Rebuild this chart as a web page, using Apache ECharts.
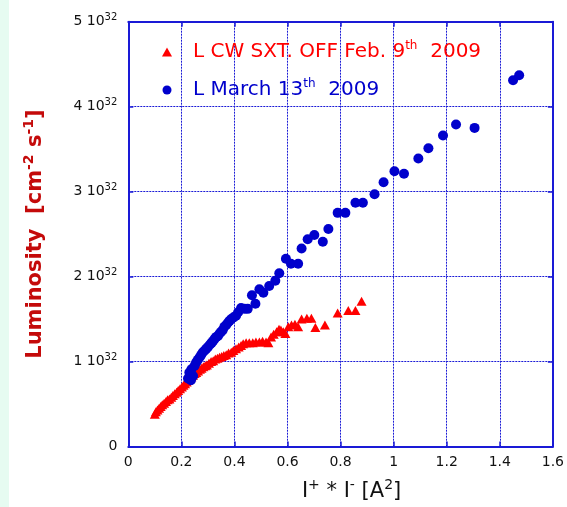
<!DOCTYPE html>
<html>
<head>
<meta charset="utf-8">
<script src="https://cdn.jsdelivr.net/npm/echarts@6/dist/echarts.min.js"></script>
<style>html,body{margin:0;padding:0;background:#fff}#c{width:567px;height:507px}</style>
</head>
<body>
<div id="c"></div>
<script>
// Luminosity in units of 1e32 cm^-2 s^-1 vs I+ * I- [A^2]
var redName = 'L CW SXT. OFF Feb. 9th 2009';
var blueName = 'L March 13th 2009';
var yTicks = [0, 1, 2, 3, 4, 5];
var xTicks = [0, 0.2, 0.4, 0.6, 0.8, 1, 1.2, 1.4, 1.6];

var redData = [
[0.100,0.38],[0.104,0.41],[0.110,0.43],[0.116,0.45],[0.122,0.47],[0.128,0.49],[0.135,0.51],[0.142,0.53],
[0.148,0.55],[0.155,0.56],[0.162,0.58],[0.168,0.60],[0.175,0.62],[0.182,0.64],[0.188,0.66],[0.195,0.68],
[0.202,0.70],[0.208,0.72],[0.214,0.74],[0.220,0.76],[0.226,0.78],[0.232,0.80],[0.238,0.82],[0.244,0.84],
[0.250,0.86],[0.256,0.87],[0.263,0.89],[0.270,0.91],[0.276,0.92],[0.283,0.94],[0.290,0.95],[0.296,0.96],
[0.304,0.98],[0.312,1.00],[0.320,1.01],[0.328,1.03],[0.336,1.04],[0.344,1.05],[0.352,1.06],[0.360,1.07],
[0.369,1.08],[0.378,1.10],[0.388,1.11],[0.396,1.13],[0.406,1.15],[0.416,1.17],[0.425,1.19],[0.433,1.21],
[0.444,1.22],[0.456,1.22],[0.469,1.22],[0.481,1.23],[0.494,1.23],[0.506,1.24],[0.519,1.23],[0.528,1.22],
[0.538,1.29],[0.548,1.32],[0.559,1.35],[0.568,1.38],[0.575,1.37],[0.584,1.35],[0.592,1.33],[0.603,1.41],
[0.615,1.43],[0.628,1.44],[0.640,1.41],[0.653,1.50],[0.673,1.51],[0.690,1.51],[0.705,1.40],[0.741,1.43],
[0.789,1.57],[0.829,1.60],[0.856,1.60],[0.879,1.71]
];
var blueData = [
[0.225,0.80],[0.230,0.87],[0.236,0.78],[0.238,0.91],[0.244,0.83],[0.250,0.95],[0.256,0.99],[0.262,1.02],
[0.269,1.05],[0.275,1.08],[0.281,1.11],[0.288,1.13],[0.294,1.15],[0.300,1.17],[0.308,1.20],[0.314,1.22],
[0.319,1.24],[0.326,1.27],[0.332,1.29],[0.338,1.30],[0.344,1.33],[0.350,1.35],[0.356,1.37],[0.362,1.41],
[0.369,1.43],[0.376,1.46],[0.382,1.48],[0.388,1.50],[0.397,1.52],[0.406,1.54],[0.414,1.58],[0.425,1.63],
[0.438,1.62],[0.450,1.62],[0.466,1.78],[0.479,1.68],[0.494,1.85],[0.509,1.81],[0.531,1.89],[0.554,1.95],
[0.569,2.04],[0.594,2.21],[0.613,2.15],[0.640,2.15],[0.653,2.33],[0.676,2.44],[0.701,2.49],[0.733,2.41],
[0.754,2.56],[0.789,2.75],[0.818,2.75],[0.856,2.87],[0.884,2.87],[0.928,2.97],[0.962,3.11],[1.003,3.24],
[1.039,3.21],[1.093,3.39],[1.131,3.51],[1.186,3.66],[1.235,3.79],[1.305,3.75],[1.450,4.31],[1.473,4.37]
];

var BLUE = '#0000cc';
var RED = '#ff0000';
var AXIS = '#1a1ad6';
var FONT = '"DejaVu Sans", Verdana, sans-serif';

var chart = echarts.init(document.getElementById('c'), null, {renderer: 'canvas'});
chart.setOption({
  animation: false,
  backgroundColor: '#ffffff',
  graphic: [{type: 'rect', left: 0, top: 0, shape: {width: 9, height: 507}, style: {fill: '#e6fbf1'}, silent: true}],
  grid: {left: 128.3, right: 12, top: 21.7, bottom: 59.3},
  legend: {
    orient: 'vertical', left: 157, top: 35, itemGap: 16, itemWidth: 10, itemHeight: 9,
    data: [{name: redName, icon: 'triangle'}, {name: blueName, icon: 'circle'}],
    formatter: function (n) {
      if (n === redName) return '{r|L CW SXT. OFF Feb. 9}{rs|th}{r|  2009}';
      return '{b|L March 13}{bs|th}{b|  2009}';
    },
    textStyle: {
      padding: [0, 0, 0, 16],
      rich: {
        r: {fontSize: 20, color: RED, fontFamily: FONT},
        rs: {fontSize: 12, color: RED, fontFamily: FONT, padding: [0, 0, 12, 0]},
        b: {fontSize: 20, color: BLUE, fontFamily: FONT},
        bs: {fontSize: 12, color: BLUE, fontFamily: FONT, padding: [0, 0, 12, 0]}
      }
    }
  },
  xAxis: [{
    type: 'value', min: 0, max: 1.6, interval: 0.2, position: 'bottom',
    axisLine: {show: true, onZero: false, lineStyle: {color: AXIS, width: 2}},
    axisTick: {show: true, inside: true, length: 5, lineStyle: {color: AXIS, width: 1.5}},
    splitLine: {show: true, lineStyle: {color: AXIS, type: [2, 1], width: 1}},
    axisLabel: {margin: 9, fontSize: 14, color: '#111', fontFamily: FONT,
      formatter: function (v) { var t = xTicks.filter(function (k) { return Math.abs(k - v) < 1e-9; }); return t.length ? String(+t[0].toFixed(1)) : ''; }},
    name: '{a|I}{s|+}{a| * I}{s|-}{a| [A}{s|2}{a|]}', nameLocation: 'middle', nameGap: 32,
    nameTextStyle: {padding: [0, 0, 0, 22], rich: {
      a: {fontSize: 21, color: '#111', fontFamily: FONT},
      s: {fontSize: 14, color: '#111', fontFamily: FONT, padding: [0, 0, 12, 0]}
    }}
  }, {
    type: 'value', min: 0, max: 1.6, interval: 0.2, position: 'top',
    axisLine: {show: true, onZero: false, lineStyle: {color: AXIS, width: 2}},
    axisTick: {show: true, inside: true, length: 5, lineStyle: {color: AXIS, width: 1.5}},
    splitLine: {show: false}, axisLabel: {show: false}
  }],
  yAxis: [{
    type: 'value', min: 0, max: 5, interval: 1,
    axisLine: {show: true, onZero: false, lineStyle: {color: AXIS, width: 2}},
    axisTick: {show: true, inside: true, length: 5, lineStyle: {color: AXIS, width: 1.5}},
    splitLine: {show: true, lineStyle: {color: AXIS, type: [2, 1], width: 1}},
    axisLabel: {margin: 11, fontFamily: FONT,
      formatter: function (v) { if (v === 0) return '{n|0}'; var t = yTicks.indexOf(v); return t >= 0 ? '{n|' + v + ' 10}{s|32}' : ''; },
      rich: {
        n: {fontSize: 14, color: '#111', fontFamily: FONT},
        s: {fontSize: 10, color: '#111', fontFamily: FONT, padding: [0, 0, 9, 0]}
      }},
    name: '{a|Luminosity  [cm}{s|-2}{a| s}{s|-1}{a|]}', nameLocation: 'middle', nameGap: 80, nameRotate: 90,
    nameTextStyle: {rich: {
      a: {fontSize: 21, fontWeight: 'bold', color: '#c40a0a', fontFamily: FONT},
      s: {fontSize: 14, fontWeight: 'bold', color: '#c40a0a', fontFamily: FONT, padding: [0, 0, 12, 0]}
    }}
  }, {
    type: 'value', min: 0, max: 5, interval: 1, position: 'right',
    axisLine: {show: true, onZero: false, lineStyle: {color: AXIS, width: 2}},
    axisTick: {show: true, inside: true, length: 5, lineStyle: {color: AXIS, width: 1.5}},
    splitLine: {show: false}, axisLabel: {show: false}
  }],
  series: [{
    name: redName, type: 'scatter', symbol: 'triangle', symbolSize: [10, 9],
    itemStyle: {color: RED, opacity: 1}, data: redData, z: 3
  }, {
    name: blueName, type: 'scatter', symbol: 'circle', symbolSize: 10,
    itemStyle: {color: BLUE, opacity: 1}, data: blueData, z: 4
  }]
});
</script>
</body>
</html>
